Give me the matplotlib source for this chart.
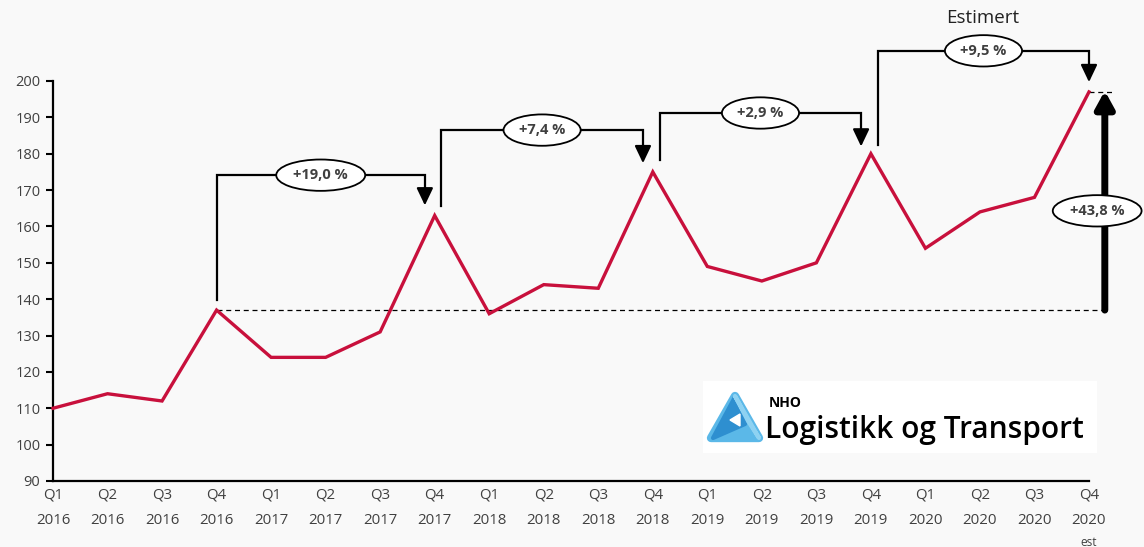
import matplotlib
matplotlib.use("Agg")
import matplotlib.pyplot as plt
from matplotlib.patches import Rectangle, Polygon
from matplotlib.transforms import offset_copy

plt.rcParams['font.family'] = ['Open Sans', 'DejaVu Sans']

quarters = ["Q1", "Q2", "Q3", "Q4"] * 5
years = ["2016"] * 4 + ["2017"] * 4 + ["2018"] * 4 + ["2019"] * 4 + ["2020"] * 4
values = [110, 114, 112, 137, 124, 124, 131, 163, 136, 144, 143, 175,
          149, 145, 150, 180, 154, 164, 168, 197]
yticks = list(range(90, 201, 10))

# bracket annotations: (x_start, y_start, y_top, x_end, y_tip, label)
brackets = [
    (3.0, 139.8, 174.1, 6.82, 165.8, "+19,0 %"),
    (7.12, 165.6, 186.5, 10.82, 177.4, "+7,4 %"),
    (11.13, 178.3, 191.2, 14.82, 182.0, "+2,9 %"),
    (15.13, 182.4, 208.3, 19.0, 199.7, "+9,5 %"),
]
total_label = "+43,8 %"

BG = "#f9f9f9"
RED = "#c8103c"
TXT = "#404040"

fig = plt.figure(figsize=(11.44, 5.47), dpi=100, facecolor=BG)
ax = fig.add_axes([53/1144, (547-481)/547, (1089-53)/1144, (481-81)/547])
ax.set_facecolor(BG)

x = list(range(len(values)))
ax.plot(x, values, color=RED, lw=2.4, solid_joinstyle='miter', zorder=3, clip_on=False)

ax.set_xlim(0, 19)
ax.set_ylim(90, 200)
ax.set_yticks(yticks)
ax.set_yticklabels([str(v) for v in yticks], fontsize=10.5, color=TXT)
ax.set_xticks(x)
labels = [f"{q}\n{y}" for q, y in zip(quarters, years)]
ax.set_xticklabels(labels, fontsize=10.8, color=TXT, linespacing=1.95)
ax.tick_params(axis='x', length=0, pad=5)
ax.tick_params(axis='y', length=5, width=1.5, color='black', pad=4)
for s in ['top', 'right']:
    ax.spines[s].set_visible(False)
for s in ['left', 'bottom']:
    ax.spines[s].set_linewidth(1.6)
    ax.spines[s].set_color('black')
est_tr = offset_copy(ax.get_xaxis_transform(), fig=fig, x=0, y=-61, units='dots')
ax.text(19, 0, "est", ha='center', va='center', fontsize=8.5, color=TXT,
        transform=est_tr, clip_on=False)

# dashed reference lines
ax.plot([3, 19.3], [values[3], values[3]], ls=(0, (4, 3)), color='black', lw=0.9, clip_on=False, zorder=2)
ax.plot([19.0, 19.45], [values[-1], values[-1]], ls=(0, (4, 3)), color='black', lw=0.9, clip_on=False, zorder=2)

for xs, ys, yt, xe, ytip, lab in brackets:
    ax.plot([xs, xs, xe, xe], [ys, yt, yt, ytip + 4.0], color='black', lw=1.6,
            clip_on=False, zorder=4, solid_joinstyle='miter')
    ax.annotate("", xy=(xe, ytip), xytext=(xe, ytip + 4.2),
                arrowprops=dict(arrowstyle="-|>,head_length=1.05,head_width=0.5",
                                color='black', lw=1.6, shrinkA=0, shrinkB=0),
                annotation_clip=False, zorder=5)
    ax.text((xs + xe) / 2, yt, lab, ha='center', va='center', fontsize=10.5,
            fontweight='bold', color=TXT, zorder=6,
            bbox=dict(boxstyle="ellipse,pad=0.28", fc='white', ec='black', lw=1.3))

# total arrow
ax.annotate("", xy=(19.29, values[-1] + 0.3), xytext=(19.29, values[3]),
            arrowprops=dict(arrowstyle="-|>,head_length=1.0,head_width=0.55",
                            color='black', lw=5, shrinkA=0, shrinkB=0),
            annotation_clip=False, zorder=5)
ax.text(19.15, 164.3, total_label, ha='center', va='center', fontsize=10.5,
        fontweight='bold', color=TXT, zorder=6,
        bbox=dict(boxstyle="ellipse,pad=0.28", fc='white', ec='black', lw=1.3))

ax.text(17.05, 217.3, "Estimert", ha='center', va='center', fontsize=13.5,
        color='#222222', clip_on=False)

# logo
W, H = 1144, 547
def fx(px): return px / W
def fy(py): return (H - py) / H
fig.patches.append(Rectangle((fx(703), fy(453)), fx(1097) - fx(703), fy(381) - fy(453),
                             transform=fig.transFigure, fc='white', ec='none', zorder=10))
tri_outer = [(fx(711), fy(438)), (fx(735), fy(396)), (fx(759), fy(438))]
fig.patches.append(Polygon(tri_outer, closed=True, transform=fig.transFigure,
                           fc='#5bb8e8', ec='#5bb8e8', lw=6, joinstyle='round', zorder=11))
tri_mid = [(fx(713), fy(438)), (fx(735), fy(397)), (fx(745), fy(424))]
fig.patches.append(Polygon(tri_mid, closed=True, transform=fig.transFigure,
                           fc='#2e8fd0', ec='#2e8fd0', lw=3, joinstyle='round', zorder=12))
tri_top = [(fx(735), fy(396)), (fx(759), fy(438)), (fx(748), fy(421))]
fig.patches.append(Polygon(tri_top, closed=True, transform=fig.transFigure,
                           fc='#8ed2f2', ec='#8ed2f2', lw=3, joinstyle='round', zorder=12))
tri_in = [(fx(730), fy(420)), (fx(740), fy(414)), (fx(740), fy(426))]
fig.patches.append(Polygon(tri_in, closed=True, transform=fig.transFigure,
                           fc='white', ec='white', lw=1, zorder=13))
fig.text(fx(769), fy(403), "NHO", fontsize=10, fontweight='bold', color='black',
         ha='left', va='center', zorder=14)
fig.text(fx(765), fy(430), "Logistikk og Transport", fontsize=21.5, fontweight='semibold',
         color='black', ha='left', va='center', zorder=14)

fig.savefig("out.png", dpi=100, facecolor=BG)
